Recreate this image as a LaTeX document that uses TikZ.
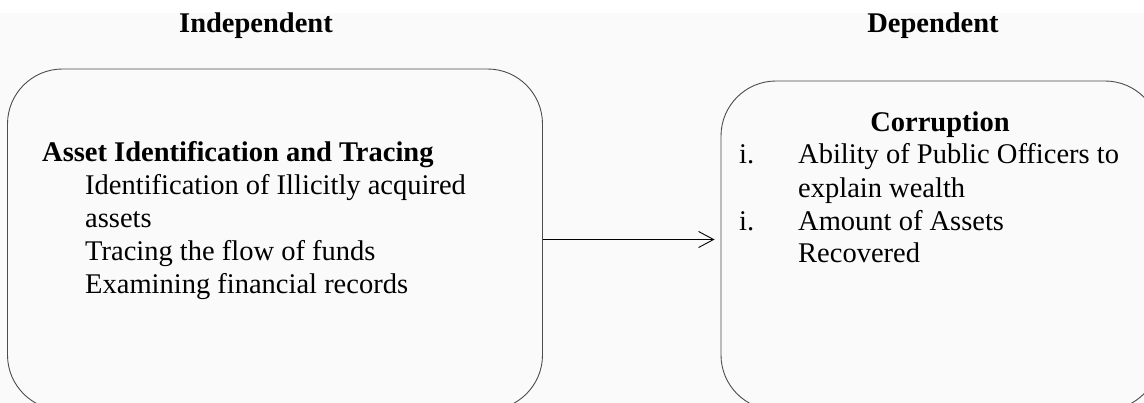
\documentclass[tikz,border=0pt]{standalone}
\usepackage{fontspec}
\setmainfont{Liberation Serif}
\usetikzlibrary{arrows.meta}

\begin{document}
\begin{tikzpicture}[x=1pt,y=-1pt,
    txt/.style={anchor=base west, inner sep=0pt, font=\fontsize{28.5}{33}\selectfont},
    head/.style={anchor=base, inner sep=0pt, font=\fontsize{28.5}{33}\selectfont\bfseries},
    frame/.style={draw=black!70, line width=0.9pt, rounded corners=55pt, fill=black!2}]
        \clip (0,0) rectangle (1144,403);
        \fill [black!2] (0,13) rectangle (1144,403);

        \node [head] (L) at (256,33) {Independent};
        \node [head] (R) at (933,33) {Dependent};

        \node [frame, minimum width=535pt, minimum height=341pt] (A) at (275,239.5) {};
        \node [frame, minimum width=439pt, minimum height=329pt] (B) at (940.5,245.5) {};
        \draw [-{Straight Barb[length=15pt,width=16pt]}, line width=0.9pt, shorten >=6pt] (A.east) -- (A.east -| B.west);

        \node [txt, font=\fontsize{28.5}{33}\selectfont\bfseries] (A0) at (42,162) {Asset Identification and Tracing};
        \node [txt] (A1) at (85,195) {Identification of Illicitly acquired};
        \node [txt] (A2) at (85,228) {assets};
        \node [txt] (A3) at (85,261) {Tracing the flow of funds};
        \node [txt] (A4) at (85,294) {Examining financial records};

        \node [head] (B0) at (940,132) {Corruption};
        \node [txt] (N1) at (739,164) {i.};
        \node [txt] (B1) at (798,164) {Ability of Public Officers to};
        \node [txt] (B2) at (798,198) {explain wealth};
        \node [txt] (N2) at (739,231) {i.};
        \node [txt] (B3) at (798,231) {Amount of Assets};
        \node [txt] (B4) at (798,263) {Recovered};

    \end{tikzpicture}
\end{document}
